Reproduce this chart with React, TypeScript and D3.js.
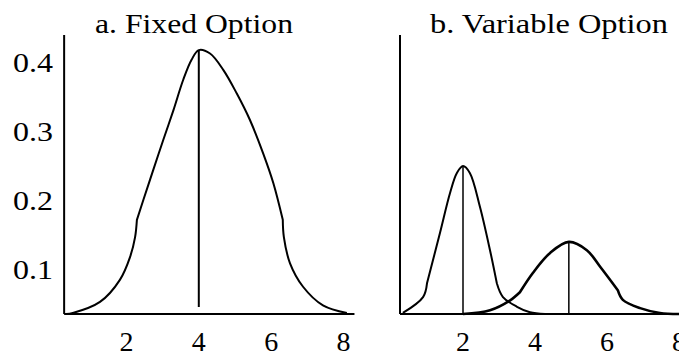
import React from "react";
import * as d3 from "d3";

// panel a: fixed option (x, density); the curve has kinks at the listed indices
const fixedX = [0.33, 0.52, 1.27, 1.82, 2.1, 2.24, 2.29, 2.47, 2.74, 3.02, 3.3, 3.57, 3.8, 4.0, 4.31, 4.68, 5.05, 5.41, 5.78, 6.06, 6.32, 6.35, 6.52, 6.88, 7.43, 8.09];
const fixedY = [0.0355, 0.037, 0.053, 0.085, 0.118, 0.147, 0.172, 0.201, 0.244, 0.288, 0.331, 0.375, 0.404, 0.418, 0.413, 0.389, 0.355, 0.317, 0.268, 0.225, 0.172, 0.147, 0.109, 0.075, 0.048, 0.037];
const fixedKinks = [6, 20];
const fixedMean = 4;

// panel b: variable option, two curves
const lowX = [0.33, 0.89, 1.0, 1.36, 1.64, 1.83, 2.0, 2.19, 2.47, 2.75, 2.94, 3.11, 3.5, 3.86, 4.28];
const lowY = [0.037, 0.06, 0.08, 0.153, 0.211, 0.24, 0.25, 0.24, 0.191, 0.128, 0.08, 0.06, 0.046, 0.038, 0.0355];
const lowKinks = [2, 10];
const lowMean = 2;

const highX = [2.0, 2.75, 3.3, 3.58, 3.94, 4.42, 4.94, 5.44, 5.81, 6.3, 6.44, 6.92, 7.47, 8.0];
const highY = [0.0355, 0.041, 0.055, 0.067, 0.095, 0.124, 0.14, 0.128, 0.104, 0.07, 0.056, 0.044, 0.037, 0.0355];
const highKinks = [3, 9];
const highMean = 4.94;

const xTicks = [2, 4, 6, 8];
const yTicks = [0.1, 0.2, 0.3, 0.4];
const titles = ["a. Fixed Option", "b. Variable Option"];

const width = 679;
const height = 356;
const font = "'Liberation Serif', 'Times New Roman', serif";

const yScale = d3.scaleLinear().domain([0, 0.4]).range([338.5, 62.5]);
const yDomain = [0.0355, 0.44];

const xA = d3.scaleLinear().domain([0, 8]).range([54, 343.6]);
const xB = d3.scaleLinear().domain([0, 8]).range([391, 679]);

type Pt = [number, number];

function Curve({ xs, ys, kinks, x, w }: { xs: number[]; ys: number[]; kinks: number[]; x: d3.ScaleLinear<number, number>; w: number }) {
  const pts: Pt[] = xs.map((v, i) => [v, ys[i]]);
  const cuts = [0, ...kinks, pts.length - 1];
  const line = d3
    .line<Pt>()
    .x(d => x(d[0]))
    .y(d => yScale(d[1]))
    .curve(d3.curveCatmullRom.alpha(0.5));
  const d = cuts
    .slice(0, -1)
    .map((c, i) => line(pts.slice(c, cuts[i + 1] + 1)) || "")
    .map((s, i) => (i === 0 ? s : s.replace(/^M[^C]*/, "")))
    .join("");
  return <path d={d} fill="none" stroke="#000" strokeWidth={w} strokeLinejoin="round" />;
}

function MeanLine({ m, xs, ys, x, w, gap }: { m: number; xs: number[]; ys: number[]; x: d3.ScaleLinear<number, number>; w: number; gap: number }) {
  const top = ys[xs.indexOf(m)];
  return <line x1={x(m)} x2={x(m)} y1={yScale(top)} y2={yScale(yDomain[0]) - gap} stroke="#000" strokeWidth={w} />;
}

function Panel({ x, xMin, xMax, title, titleX, titleLen, showY, children }: any) {
  const y0 = yScale(yDomain[0]);
  return (
    <g>
      <line x1={x(xMin)} x2={x(xMin)} y1={yScale(yDomain[1])} y2={y0} stroke="#000" strokeWidth={2} />
      <line x1={x(xMin)} x2={x(xMax)} y1={y0} y2={y0} stroke="#000" strokeWidth={2} />
      {xTicks.map(t => (
        <text key={t} x={x(t)} y={351} textAnchor="middle" fontSize={28} fontFamily={font}>
          {t}
        </text>
      ))}
      {showY &&
        yTicks.map(t => (
          <text key={t} x={13} y={yScale(t) + 9} fontSize={28} fontFamily={font} textLength={40} lengthAdjust="spacingAndGlyphs">
            {t.toFixed(1)}
          </text>
        ))}
      <text x={titleX} y={33} fontSize={27} fontFamily={font} textLength={titleLen} lengthAdjust="spacingAndGlyphs">
        {title}
      </text>
      {children}
    </g>
  );
}

export default function App() {
  return (
    <svg width={width} height={height} style={{ position: "absolute", left: 0, top: 0, background: "#fff" }}>
      <Panel x={xA} xMin={0.28} xMax={8.3} title={titles[0]} titleX={95} titleLen={198} showY>
        <Curve xs={fixedX} ys={fixedY} kinks={fixedKinks} x={xA} w={2} />
        <MeanLine m={fixedMean} xs={fixedX} ys={fixedY} x={xA} w={2} gap={7} />
      </Panel>
      <Panel x={xB} xMin={0.25} xMax={8.0} title={titles[1]} titleX={430} titleLen={238} showY={false}>
        <Curve xs={lowX} ys={lowY} kinks={lowKinks} x={xB} w={2} />
        <MeanLine m={lowMean} xs={lowX} ys={lowY} x={xB} w={1.5} gap={0} />
        <Curve xs={highX} ys={highY} kinks={highKinks} x={xB} w={2.6} />
        <MeanLine m={highMean} xs={highX} ys={highY} x={xB} w={1.5} gap={0} />
      </Panel>
    </svg>
  );
}
